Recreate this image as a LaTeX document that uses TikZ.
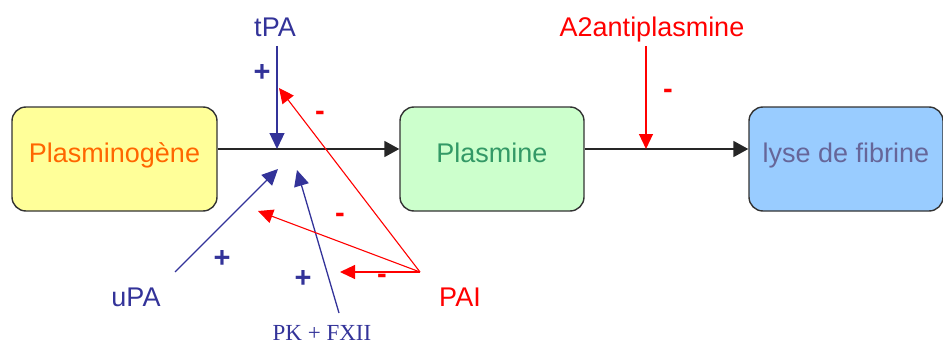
\documentclass[tikz,border=0pt]{standalone}
\usepackage{fontspec}
\setmainfont{Liberation Sans}
\newfontfamily\pkfont{Liberation Serif}
\usepackage{tikz}
\usetikzlibrary{arrows.meta}
\usetikzlibrary{positioning}
\usepackage{xcolor}
\definecolor{actblue}{HTML}{333399}
\definecolor{inhred}{HTML}{FF0000}
\definecolor{pgfill}{HTML}{FFFF99}
\definecolor{plfill}{HTML}{CCFFCC}
\definecolor{lyfill}{HTML}{99CCFF}
\definecolor{pgtext}{HTML}{FF6600}
\definecolor{pltext}{HTML}{339966}
\definecolor{lytext}{HTML}{666699}
\tikzset{
  box/.style={draw=black!80, line width=1.4pt, rounded corners=14pt,
    minimum height=104pt, text height=20pt, text depth=14pt, inner sep=0pt,
    font=\fontsize{27}{30}\selectfont},
  flow/.style={-{Triangle[length=15pt,width=16pt]}, line width=1.8pt, black!85},
  activ/.style={-{Triangle[length=16pt,width=15pt]}, line width=1.3pt, actblue},
  inhib/.style={-{Triangle[length=15pt,width=14pt]}, line width=1.1pt, inhred},
  lbl/.style={anchor=base, inner sep=0pt, font=\fontsize{27}{30}\selectfont},
  sgn/.style={inner sep=0pt, font=\bfseries\fontsize{29}{30}\selectfont}
}

\begin{document}
\begin{tikzpicture}[x=1pt,y=-1pt]
\useasboundingbox (0,0) rectangle (943,345);

\node[box, fill=pgfill, text=pgtext, minimum width=205pt] (pg) at (114.5,159) {Plasminogène};
\node[box, fill=plfill, text=pltext, minimum width=184pt] (pl) at (492,159) {Plasmine};
\node[box, fill=lyfill, text=lytext, minimum width=194pt] (ly) at (846,159) {lyse de fibrine};

\draw[flow] ([yshift=10pt]pg.east) -- ([yshift=10pt]pl.west);
\draw[flow] ([yshift=10pt]pl.east) -- ([yshift=10pt]ly.west);

\node[lbl, actblue] (tpa) at (275,37) {tPA};
\node[lbl, actblue] (upa) at (136,306) {uPA};
\node[lbl, actblue, font=\pkfont\fontsize{23}{26}\selectfont] (pk) at (322,340) {PK + FXII};
\node[lbl, inhred] (pai) at (460,306) {PAI};
\node[lbl, inhred] (a2) at (652,37) {A2antiplasmine};

\coordinate (tpaS) at (277,46);
\coordinate (tpaT) at (277,149);
\coordinate (upaS) at (175,272);
\coordinate (upaT) at (278,169);
\coordinate (pkS) at (339,313);
\coordinate (pkT) at (297,170);
\coordinate (paiS) at (420,272);
\coordinate (paiT1) at (279,88);
\coordinate (paiT2) at (258,211);
\coordinate (paiT3) at (340,272);
\coordinate (a2S) at (646,46);
\coordinate (a2T) at (646,149);

\draw[activ] (tpaS) -- (tpaT);
\draw[activ] (upaS) -- (upaT);
\draw[activ] (pkS) -- (pkT);
\draw[inhib] (paiS) -- (paiT1);
\draw[inhib] (paiS) -- (paiT2);
\draw[inhib] (paiS) -- (paiT3);
\draw[inhib] (a2S) -- (a2T);

\node[sgn, actblue] (s1) at (262,73) {+};
\node[sgn, actblue] (s2) at (222,259) {+};
\node[sgn, actblue] (s3) at (303,279) {+};
\node[sgn, inhred] (s4) at (320,116) {-};
\node[sgn, inhred] (s5) at (340,218) {-};
\node[sgn, inhred] (s6) at (382,279) {-};
\node[sgn, inhred] (s7) at (668,94) {-};
\end{tikzpicture}
\end{document}
